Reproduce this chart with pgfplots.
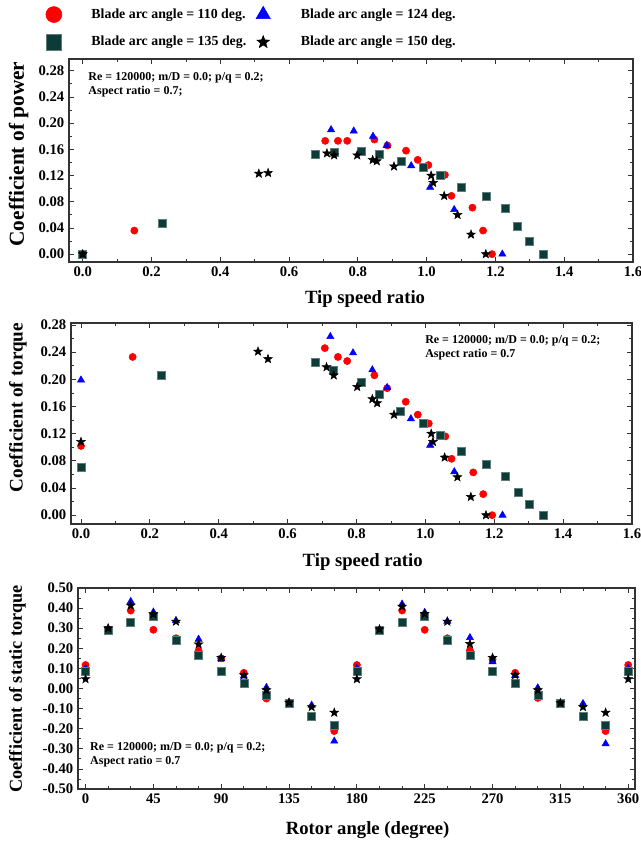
\documentclass[border=0pt]{standalone}
\usepackage{pgfplots}
\pgfplotsset{compat=1.18}
\usepackage{fontspec}
\setmainfont{Liberation Serif}
\definecolor{sqcol}{HTML}{0C3B38}
\definecolor{sqedge}{HTML}{5E7C7A}
\definecolor{spine}{HTML}{333333}

% filled five-point star
\pgfdeclareplotmark{fstar}{%
  \pgfpathmoveto{\pgfpointpolar{90}{\pgfplotmarksize}}%
  \pgfpathlineto{\pgfpointpolar{126}{0.42\pgfplotmarksize}}%
  \pgfpathlineto{\pgfpointpolar{162}{\pgfplotmarksize}}%
  \pgfpathlineto{\pgfpointpolar{198}{0.42\pgfplotmarksize}}%
  \pgfpathlineto{\pgfpointpolar{234}{\pgfplotmarksize}}%
  \pgfpathlineto{\pgfpointpolar{270}{0.42\pgfplotmarksize}}%
  \pgfpathlineto{\pgfpointpolar{306}{\pgfplotmarksize}}%
  \pgfpathlineto{\pgfpointpolar{342}{0.42\pgfplotmarksize}}%
  \pgfpathlineto{\pgfpointpolar{18}{\pgfplotmarksize}}%
  \pgfpathlineto{\pgfpointpolar{54}{0.42\pgfplotmarksize}}%
  \pgfpathclose\pgfusepathqfillstroke}

\pgfplotsset{
  s110/.style={only marks, mark=*, draw=red, fill=red, mark size=2.7pt},
  s124/.style={only marks, mark=triangle*, draw=blue, fill=blue, mark size=3.1pt},
  s135/.style={only marks, mark=square*, draw=sqedge, fill=sqcol, mark size=3pt, mark options={line width=0.4pt}},
  s150/.style={only marks, mark=fstar, draw=black, fill=black, mark size=3.4pt},
  legimg/.style={legend image code/.code={%
    \path (-9pt,0pt) (24.5pt,0pt);
    \draw[##1, mark size=#1] plot coordinates {(0pt,0pt)};}},
  panel/.style={
    scale only axis,
    anchor=north west,
    axis line style={draw=spine, line width=0.9pt},
    tick style={draw=spine, line width=0.6pt},
    major tick length=4pt,
    minor tick length=2.5pt,
    tick align=inside,
    /pgf/number format/assume math mode=true,
    ticklabel style={font=\fontsize{11}{12.5}\selectfont\bfseries},
    xlabel style={font=\fontsize{14}{16}\selectfont\bfseries},
    ylabel style={font=\fontsize{15}{17}\selectfont\bfseries},
  },
}

\begin{document}
\begin{tikzpicture}
\useasboundingbox (0pt,0pt) rectangle (480.75pt,-632.25pt);

% ---------------- power coefficient ----------------
\begin{axis}[panel,
  at={(51.75pt,-44.25pt)}, width=423pt, height=152.25pt,
  xmin=-0.04, xmax=1.6, ymin=-0.012, ymax=0.298,
  xtick={0,0.2,0.4,0.6,0.8,1.0,1.2,1.4,1.6},
  xticklabels={0.0,0.2,0.4,0.6,0.8,1.0,1.2,1.4,1.6},
  ytick={0,0.04,0.08,0.12,0.16,0.2,0.24,0.28},
  yticklabels={0.00,0.04,0.08,0.12,0.16,0.20,0.24,0.28},
  minor x tick num=1, minor y tick num=1,
  xlabel={Tip speed ratio},
  ylabel={Coefficient of power},
  xlabel style={at={(axis description cs:0.525,-0.18)}, anchor=center},
  ylabel style={at={(axis description cs:-0.0895,0.532)}, anchor=center, font=\fontsize{16}{18}\selectfont\bfseries},
  legend columns=2,
  legend style={draw=none, fill=none, inner sep=0pt,
    at={(rel axis cs:-0.049,1.262)}, anchor=north west,
    font=\fontsize{10.4}{11.5}\selectfont\bfseries,
    row sep=8pt, column sep=1.5pt},
  legend cell align=left,
]
\addplot[s110, legimg=6pt] coordinates {
 (0,0) (0.150,0.036) (0.705,0.173) (0.742,0.173) (0.769,0.173) (0.848,0.175)
 (0.886,0.166) (0.940,0.158) (0.974,0.144) (1.005,0.136) (1.053,0.121)
 (1.072,0.089) (1.133,0.071) (1.164,0.036) (1.190,0.000)};
\addlegendentry{Blade arc angle = 110 deg.}
\addplot[s124, legimg=6.2pt] coordinates {
 (0,0) (0.722,0.190) (0.788,0.188) (0.844,0.180) (0.884,0.166) (0.955,0.135)
 (1.010,0.102) (1.080,0.068) (1.220,0.000)};
\addlegendentry{Blade arc angle = 124 deg.}
\addplot[s135, legimg=5.8pt] coordinates {
 (0,0) (0.232,0.047) (0.676,0.152) (0.732,0.156) (0.809,0.157) (0.863,0.153)
 (0.925,0.142) (0.990,0.133) (1.041,0.121) (1.100,0.102) (1.172,0.088)
 (1.228,0.070) (1.264,0.042) (1.298,0.019) (1.338,0.000)};
\addlegendentry{Blade arc angle = 135 deg.}
\addplot[s150, legimg=5pt] coordinates {
 (0,0) (0.512,0.123) (0.539,0.124) (0.710,0.154) (0.731,0.151) (0.798,0.151)
 (0.843,0.144) (0.855,0.142) (0.905,0.134) (1.013,0.120) (1.019,0.109)
 (1.051,0.089) (1.090,0.060) (1.129,0.030) (1.172,0.000)};
\addlegendentry{Blade arc angle = 150 deg.}
\node[anchor=north west, align=left, font=\fontsize{9}{10.5}\selectfont\bfseries, inner sep=0pt]
  at (rel axis cs:0.034,0.935) {Re = 120000; m/D = 0.0; p/q = 0.2;\\Aspect ratio = 0.7;};
\end{axis}

% ---------------- torque coefficient ----------------
\begin{axis}[panel,
  at={(53.25pt,-242.25pt)}, width=420.75pt, height=150.75pt,
  xmin=-0.029, xmax=1.6, ymin=-0.013, ymax=0.283,
  xtick={0,0.2,0.4,0.6,0.8,1.0,1.2,1.4,1.6},
  xticklabels={0.0,0.2,0.4,0.6,0.8,1.0,1.2,1.4,1.6},
  ytick={0,0.04,0.08,0.12,0.16,0.2,0.24,0.28},
  yticklabels={0.00,0.04,0.08,0.12,0.16,0.20,0.24,0.28},
  minor x tick num=1, minor y tick num=1,
  xlabel={Tip speed ratio},
  ylabel={Coefficient of torque},
  xlabel style={at={(axis description cs:0.52,-0.189)}, anchor=center},
  ylabel style={at={(axis description cs:-0.0945,0.58)}, anchor=center, font=\fontsize{14.4}{16}\selectfont\bfseries},
]
\addplot[s110] coordinates {
 (0,0.102) (0.150,0.233) (0.708,0.246) (0.746,0.233) (0.773,0.227) (0.852,0.206)
 (0.889,0.187) (0.943,0.167) (0.978,0.148) (1.010,0.135) (1.058,0.116)
 (1.076,0.083) (1.139,0.063) (1.168,0.031) (1.194,0.000)};
\addplot[s124] coordinates {
 (0,0.199) (0.724,0.263) (0.790,0.239) (0.846,0.214) (0.889,0.188) (0.958,0.142)
 (1.014,0.103) (1.084,0.064) (1.224,0.000)};
\addplot[s135] coordinates {
 (0,0.070) (0.2345,0.2065) (0.680,0.225) (0.733,0.213) (0.813,0.195) (0.866,0.178)
 (0.927,0.153) (0.994,0.136) (1.043,0.118) (1.104,0.094) (1.177,0.075)
 (1.233,0.058) (1.270,0.034) (1.301,0.016) (1.343,0.000)};
\addplot[s150] coordinates {
 (0,0.108) (0.514,0.241) (0.543,0.230) (0.713,0.218) (0.734,0.206) (0.802,0.189)
 (0.846,0.171) (0.860,0.165) (0.909,0.148) (1.017,0.120) (1.022,0.108)
 (1.056,0.085) (1.093,0.056) (1.132,0.027) (1.176,0.000)};
\node[anchor=north west, align=left, font=\fontsize{9}{10.5}\selectfont\bfseries, inner sep=0pt]
  at (rel axis cs:0.631,0.94) {Re = 120000; m/D = 0.0; p/q = 0.2;\\Aspect ratio = 0.7};
\end{axis}

% ---------------- static torque coefficient ----------------
\begin{axis}[panel,
  at={(58.5pt,-441pt)}, width=417.75pt, height=150.75pt,
  xmin=-5, xmax=364.5, ymin=-0.5, ymax=0.5,
  xtick={0,45,90,135,180,225,270,315,360},
  ytick={-0.5,-0.4,-0.3,-0.2,-0.1,0,0.1,0.2,0.3,0.4,0.5},
  yticklabels={-0.50,-0.40,-0.30,-0.20,-0.10,0.00,0.10,0.20,0.30,0.40,0.50},
  minor x tick num=2, minor y tick num=1,
  xlabel={Rotor angle (degree)},
  ylabel={Coefficient of static torque},
  xlabel style={at={(axis description cs:0.52,-0.204)}, anchor=center},
  ylabel style={at={(axis description cs:-0.1086,0.4975)}, anchor=center, font=\fontsize{13.7}{15}\selectfont\bfseries},
]
\addplot[s110] coordinates {
 (0,0.117) (15,0.295) (30,0.388) (45,0.292) (60,0.250) (75,0.187) (90,0.150)
 (105,0.078) (120,-0.050) (135,-0.070) (150,-0.140) (165,-0.212) (180,0.117)
 (195,0.292) (210,0.388) (225,0.292) (240,0.250) (255,0.190) (270,0.145)
 (285,0.078) (300,-0.047) (315,-0.072) (330,-0.140) (345,-0.212) (360,0.117)};
\addplot[s124] coordinates {
 (0,0.100) (15,0.290) (30,0.433) (45,0.380) (60,0.338) (75,0.245) (90,0.148)
 (105,0.062) (120,0.005) (135,-0.070) (150,-0.083) (165,-0.262) (180,0.100)
 (195,0.283) (210,0.420) (225,0.378) (240,0.335) (255,0.253) (270,0.133)
 (285,0.065) (300,0.003) (315,-0.072) (330,-0.075) (345,-0.275) (360,0.100)};
\addplot[s135] coordinates {
 (0,0.085) (15,0.292) (30,0.330) (45,0.360) (60,0.240) (75,0.163) (90,0.085)
 (105,0.025) (120,-0.033) (135,-0.072) (150,-0.137) (165,-0.183) (180,0.085)
 (195,0.292) (210,0.330) (225,0.360) (240,0.240) (255,0.163) (270,0.085)
 (285,0.025) (300,-0.033) (315,-0.072) (330,-0.137) (345,-0.183) (360,0.085)};
\addplot[s150] coordinates {
 (0,0.047) (15,0.300) (30,0.413) (45,0.370) (60,0.333) (75,0.220) (90,0.153)
 (105,0.067) (120,-0.008) (135,-0.070) (150,-0.092) (165,-0.120) (180,0.047)
 (195,0.295) (210,0.408) (225,0.372) (240,0.333) (255,0.222) (270,0.153)
 (285,0.067) (300,-0.008) (315,-0.072) (330,-0.092) (345,-0.120) (360,0.047)};
\node[anchor=north west, align=left, font=\fontsize{9}{10.5}\selectfont\bfseries, inner sep=0pt]
  at (rel axis cs:0.0215,0.234) {Re = 120000; m/D = 0.0; p/q = 0.2;\\Aspect ratio = 0.7};
\end{axis}
\end{tikzpicture}
\end{document}
